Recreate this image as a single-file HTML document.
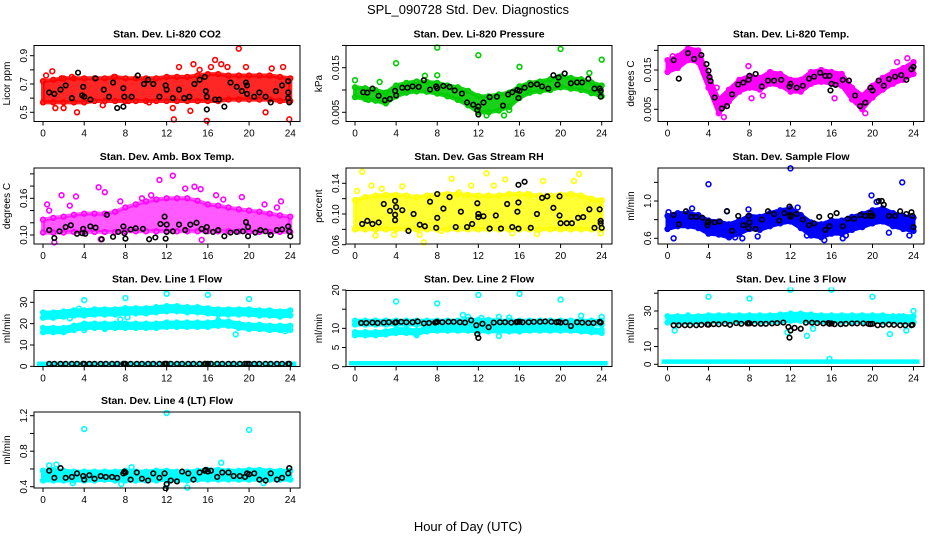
<!DOCTYPE html>
<html><head><meta charset="utf-8"><title>SPL_090728 Std. Dev. Diagnostics</title>
<style>
html,body{margin:0;padding:0;background:#fff;}
svg{display:block;font-family:"Liberation Sans",Arial,sans-serif;}
.pt{font-size:10.5px;font-weight:bold;text-anchor:middle;}
.tk{font-size:10px;}
</style></head>
<body>
<svg id="chart" width="936" height="540" viewBox="0 0 936 540">
<text x="468" y="14" font-size="13" text-anchor="middle">SPL_090728  Std. Dev. Diagnostics</text>
<text x="468" y="531" font-size="13" text-anchor="middle">Hour of Day (UTC)</text>
</svg>
<script>
// ---------- shared data ----------
const HOURS = [0,1,2,3,4,5,6,7,8,9,10,11,12,13,14,15,16,17,18,19,20,21,22,23,24];
const XTICKS = [0,4,8,12,16,20,24];
const LINE_BH = [0.6,1.1,1.7,2.2,2.8,3.3,3.9,4.0,4.5,5.0,5.6,6.1,6.7,7.2,7.8,7.9,8.0,8.5,9.1,9.6,10.2,10.7,11.3,11.8,11.9,12.0,12.4,13.0,13.5,14.1,14.6,15.2,15.7,15.8,16.0,16.3,16.9,17.4,18.0,18.5,19.1,19.6,19.8,20.0,20.5,21.0,21.6,22.1,22.7,23.2,23.8,23.9];

// CO2
const co2Lo = [0.57,0.57,0.57,0.57,0.57,0.58,0.58,0.58,0.58,0.58,0.58,0.58,0.58,0.58,0.58,0.58,0.58,0.58,0.59,0.59,0.59,0.59,0.59,0.58,0.58];
const co2Hi = [0.72,0.73,0.74,0.74,0.74,0.74,0.74,0.75,0.74,0.74,0.74,0.74,0.75,0.75,0.75,0.76,0.77,0.77,0.76,0.76,0.76,0.76,0.76,0.75,0.74];
const co2Out = [[0.3,0.76],[0.9,0.79],[1.8,0.74],[3.3,0.5],[1.2,0.53],[12.7,0.45],[13.2,0.82],[14.6,0.84],[15.9,0.44],[16.7,0.87],[19,0.95],[19.7,0.82],[21.6,0.5],[23.3,0.82],[23.9,0.45],[22.2,0.81],[17.3,0.84],[2.8,0.75],[5.8,0.55],[10.3,0.57],[8.3,0.58],[15.2,0.8],[17.9,0.82],[2.0,0.53],[6.9,0.75],[12.6,0.53],[14.3,0.51],[16.3,0.82]];
const co2Blk = [[0.6,0.64],[1.1,0.63],[1.7,0.66],[2.2,0.69],[2.8,0.6],[3.4,0.78],[3.8,0.62],[3.9,0.68],[4,0.61],[4.6,0.59],[5.1,0.74],[5.9,0.66],[6.4,0.61],[6.8,0.71],[7.2,0.53],[7.8,0.54],[7.8,0.67],[7.9,0.61],[8.6,0.61],[9.2,0.76],[9.8,0.7],[10.2,0.73],[10.7,0.7],[11.3,0.61],[11.9,0.69],[12,0.66],[12.6,0.6],[13.2,0.66],[13.7,0.6],[14.2,0.61],[14.7,0.7],[15.2,0.73],[15.7,0.75],[15.8,0.65],[15.9,0.52],[15.9,0.61],[16.7,0.59],[17.1,0.59],[17.6,0.54],[18.2,0.71],[18.8,0.68],[19.3,0.65],[19.7,0.71],[19.8,0.69],[19.8,0.63],[20.5,0.61],[21,0.64],[21.6,0.61],[22.1,0.57],[22.6,0.65],[23.2,0.69],[23.8,0.72],[23.8,0.64],[23.8,0.6],[23.9,0.57]];

// Pressure
const prLo = [0.0084,0.0080,0.0076,0.0070,0.0086,0.0094,0.0097,0.0096,0.0092,0.0086,0.0078,0.0066,0.0050,0.0050,0.0054,0.0062,0.0082,0.0094,0.0097,0.0100,0.0106,0.0103,0.0100,0.0093,0.0086];
const prHi = [0.0106,0.0104,0.0100,0.0094,0.0110,0.0116,0.0119,0.0118,0.0116,0.0110,0.0106,0.0098,0.0086,0.0086,0.0090,0.0094,0.0108,0.0116,0.0119,0.0124,0.0130,0.0127,0.0124,0.0117,0.0110];
const prOut = [[0,0.0122],[4,0.016],[8,0.0195],[8,0.0133],[12,0.0178],[16,0.0152],[20,0.0192],[24,0.0168],[22.8,0.0138],[14.5,0.0043],[12.8,0.0043],[2.4,0.0118],[1.3,0.0078],[6.8,0.0132],[15,0.0055]];
const prBlk = [[0.8,0.0095],[1.2,0.0094],[1.7,0.0103],[2.3,0.0087],[2.9,0.0077],[3.4,0.008],[3.9,0.0098],[4,0.0088],[4.6,0.0105],[5.1,0.0105],[5.6,0.0108],[6.2,0.0107],[6.7,0.0122],[7.3,0.0101],[7.9,0.0108],[8,0.0104],[8.6,0.0109],[9.2,0.0107],[9.7,0.0099],[10.4,0.0092],[10.9,0.0072],[11.5,0.0067],[11.9,0.0055],[12,0.0063],[12,0.0045],[12.5,0.0072],[13.1,0.0084],[13.8,0.0085],[14.4,0.0065],[14.9,0.009],[15.3,0.0095],[15.8,0.01],[15.9,0.0082],[16,0.0098],[16.5,0.0105],[17.1,0.0112],[17.7,0.0113],[18.2,0.0108],[18.8,0.0103],[19.3,0.0133],[19.7,0.0112],[19.8,0.0128],[20.4,0.0137],[21,0.0115],[21.6,0.0117],[22.1,0.0117],[22.7,0.0125],[23.3,0.0103],[23.8,0.0103],[23.9,0.0098],[23.9,0.0085]];

// Li-820 Temp
const tLo = [0.0145,0.0155,0.0175,0.0170,0.0105,0.0040,0.0070,0.0095,0.0105,0.0100,0.0115,0.0110,0.0095,0.0095,0.0115,0.0120,0.0115,0.0110,0.0075,0.0050,0.0080,0.0100,0.0115,0.0125,0.0140];
const tHi = [0.0175,0.0185,0.0205,0.0200,0.0135,0.0075,0.0100,0.0125,0.0135,0.0130,0.0145,0.0140,0.0125,0.0125,0.0145,0.0150,0.0145,0.0140,0.0105,0.0085,0.0110,0.0130,0.0145,0.0155,0.0170];
const tOut = [[0.5,0.0185],[7.9,0.016],[8.2,0.0078],[9.3,0.0085],[16.3,0.0078],[19.3,0.004],[23.4,0.018],[22.4,0.017],[4.8,0.0105],[5.5,0.003]];
const tBlk = [[0.6,0.0175],[1.1,0.0128],[2,0.0193],[2.6,0.0178],[3.3,0.0188],[3.8,0.0165],[4,0.0148],[4.1,0.0132],[4.2,0.0122],[4.6,0.008],[5.3,0.0052],[5.8,0.0058],[6.3,0.0088],[6.9,0.0113],[7.4,0.0118],[7.9,0.0125],[8,0.0135],[8.6,0.014],[9.2,0.0108],[9.8,0.0123],[10.4,0.0123],[11.1,0.0125],[11.9,0.0108],[12,0.0115],[12.6,0.0105],[13.2,0.011],[13.8,0.0128],[14.3,0.0133],[14.9,0.0143],[15.4,0.0135],[15.8,0.0135],[15.9,0.0098],[16,0.0115],[16.4,0.0112],[17.1,0.0125],[17.7,0.0123],[18.3,0.0085],[18.8,0.0058],[19.3,0.0067],[19.8,0.0105],[20,0.0098],[20.6,0.0123],[21.1,0.011],[21.6,0.0127],[22.2,0.0133],[22.8,0.0137],[23.3,0.0125],[23.8,0.0152],[24,0.0158]];

// Amb box temp
const abLo = [0.104,0.104,0.104,0.105,0.105,0.105,0.105,0.105,0.106,0.106,0.106,0.106,0.106,0.106,0.106,0.106,0.106,0.106,0.106,0.106,0.105,0.105,0.105,0.105,0.105];
const abHi = [0.125,0.128,0.130,0.133,0.135,0.135,0.135,0.138,0.145,0.150,0.155,0.158,0.160,0.160,0.160,0.156,0.150,0.148,0.145,0.142,0.140,0.138,0.135,0.132,0.130];
const abOut = [[0.4,0.15],[1.8,0.165],[2.6,0.148],[3.2,0.163],[5.4,0.178],[6,0.17],[11.3,0.19],[12.6,0.197],[13.8,0.176],[14.7,0.179],[15.3,0.175],[16.8,0.165],[19.3,0.162],[21.5,0.15],[23.1,0.155],[1.1,0.088],[15.4,0.092],[5.6,0.093],[0.6,0.14],[9.6,0.16],[17.5,0.158],[7.5,0.155],[22.7,0.145],[10.5,0.165]];
const abBlk = [[0.6,0.108],[1.1,0.095],[1.6,0.106],[2.2,0.113],[2.7,0.116],[3.3,0.102],[3.8,0.103],[3.9,0.11],[4.1,0.102],[4.6,0.114],[5.1,0.112],[5.7,0.093],[6.2,0.133],[6.8,0.097],[7.3,0.105],[7.8,0.114],[7.9,0.103],[8,0.094],[8.5,0.109],[9,0.111],[9.7,0.11],[10.3,0.093],[10.9,0.096],[11.4,0.118],[11.8,0.13],[11.9,0.094],[12,0.105],[12,0.117],[12.6,0.106],[13.2,0.117],[13.8,0.108],[14.3,0.117],[14.9,0.12],[15.4,0.11],[15.8,0.106],[15.9,0.113],[16.5,0.105],[17,0.108],[17.6,0.098],[18.2,0.104],[18.8,0.105],[19.4,0.106],[19.7,0.121],[19.9,0.113],[19.9,0.098],[20.6,0.104],[21.1,0.108],[21.6,0.106],[22.1,0.1],[22.7,0.108],[23.2,0.109],[23.8,0.114],[23.9,0.106],[24,0.098]];

// Gas stream RH
const rhLo = [0.080,0.080,0.080,0.080,0.080,0.080,0.080,0.080,0.080,0.080,0.080,0.080,0.080,0.080,0.080,0.080,0.080,0.080,0.080,0.080,0.080,0.080,0.080,0.080,0.080];
const rhHi = [0.118,0.122,0.124,0.125,0.125,0.124,0.122,0.124,0.126,0.126,0.126,0.125,0.124,0.124,0.124,0.126,0.126,0.125,0.124,0.124,0.125,0.126,0.124,0.120,0.118];
const rhOut = [[0.7,0.155],[12.8,0.153],[21.8,0.152],[6.7,0.063],[2,0.072],[9.4,0.146],[14.6,0.145],[0.2,0.13],[4.6,0.136],[18.3,0.143],[23.9,0.075],[15.3,0.075],[3.8,0.073],[11.3,0.137],[21.3,0.143],[13.5,0.137],[6.3,0.073],[1.6,0.137],[2.6,0.133],[17.7,0.074],[8.4,0.078],[10.1,0.128],[16.8,0.126]];
const rhBlk = [[0.7,0.087],[1.2,0.091],[1.7,0.087],[2.3,0.089],[2.8,0.113],[3.4,0.104],[3.9,0.117],[3.9,0.099],[3.9,0.092],[4.0,0.109],[4.6,0.105],[5.2,0.078],[5.7,0.1],[6.3,0.086],[6.8,0.084],[7.3,0.116],[7.9,0.082],[8,0.095],[8,0.126],[8.6,0.107],[9.2,0.122],[9.8,0.083],[10.3,0.103],[10.9,0.083],[11.4,0.087],[11.9,0.114],[12,0.1],[12,0.096],[12.5,0.097],[13.1,0.081],[13.7,0.098],[14.2,0.081],[14.8,0.113],[15.3,0.083],[15.8,0.103],[15.9,0.138],[15.9,0.115],[15.9,0.081],[16.5,0.142],[17.1,0.082],[17.7,0.1],[18.2,0.121],[18.7,0.123],[19.3,0.108],[19.9,0.098],[19.9,0.123],[20,0.088],[20.6,0.088],[21.1,0.088],[21.7,0.095],[22.2,0.096],[22.8,0.106],[23.3,0.082],[23.8,0.106],[23.9,0.091],[23.9,0.088],[24,0.082]];

// Sample flow
const sfLo = [0.70,0.73,0.73,0.71,0.65,0.64,0.61,0.65,0.70,0.69,0.73,0.76,0.78,0.71,0.63,0.61,0.65,0.65,0.69,0.72,0.76,0.78,0.73,0.70,0.68];
const sfHi = [0.84,0.87,0.87,0.85,0.79,0.78,0.75,0.79,0.84,0.83,0.87,0.90,0.92,0.85,0.77,0.75,0.79,0.79,0.83,0.86,0.90,0.92,0.87,0.84,0.82];
const sfOut = [[4,1.18],[12,1.35],[22.9,1.2],[19.9,1.06],[0.1,0.88],[0.6,0.6],[2.4,0.92],[7.9,0.91],[12.7,0.93],[15.3,0.58],[17.1,0.6],[17.4,0.63],[23.6,0.63],[20.4,0.99],[5.8,0.89],[6.6,0.61],[7.3,0.6],[13.6,0.63],[21.6,0.66],[8.8,0.62]];
const sfBlk = [[0.6,0.85],[1.1,0.75],[1.8,0.89],[2.3,0.83],[2.8,0.83],[3.4,0.82],[3.9,0.77],[3.9,0.74],[4,0.78],[4.6,0.77],[5.1,0.78],[5.8,0.89],[6.3,0.68],[6.9,0.84],[7.4,0.74],[7.9,0.71],[7.9,0.84],[8,0.77],[8.6,0.7],[9.2,0.8],[9.8,0.89],[10.4,0.86],[10.9,0.79],[11.4,0.87],[11.9,0.94],[12,0.85],[12,0.83],[12.6,0.86],[13.2,0.8],[13.8,0.74],[14.3,0.76],[14.8,0.83],[15.4,0.69],[15.8,0.73],[15.9,0.84],[16.5,0.87],[17.1,0.73],[17.6,0.81],[18.2,0.81],[18.8,0.85],[19.3,0.84],[19.8,0.87],[19.8,0.84],[20,0.84],[20.6,1.0],[20.9,1.0],[21.1,0.96],[21.6,0.84],[22.2,0.84],[22.7,0.89],[23.3,0.86],[23.8,0.88],[23.9,0.84],[24,0.72]];

// Line 1 flow
const l1UpLo = [22.8,22.8,23.3,23.8,23.8,24.3,24.3,24.3,24.8,24.8,24.8,25.3,25.8,25.8,25.3,25.3,24.8,24.3,24.3,24.3,24.3,23.8,23.8,23.3,23.8];
const l1UpHi = [25.2,25.2,25.7,26.2,26.2,26.7,26.7,26.7,27.2,27.2,27.2,27.7,28.2,28.2,27.7,27.7,27.2,26.7,26.7,26.7,26.7,26.2,26.2,25.7,26.2];
const l1LwLo = [16.0,16.0,16.0,17.0,18.0,18.0,18.0,18.0,18.0,18.0,18.0,18.0,18.5,18.5,18.5,18.5,18.5,19.0,19.0,18.0,17.5,17.5,17.0,17.0,17.0];
const l1LwHi = [18.0,18.0,18.0,19.0,20.0,20.0,20.0,20.0,20.0,20.0,20.0,20.0,20.5,20.5,20.5,20.5,20.5,21.0,21.0,20.0,19.5,19.5,19.0,19.0,19.0];
const l1Base = [1.2,1.2,1.2,1.2,1.2,1.2,1.2,1.2,1.2,1.2,1.2,1.2,1.3,1.2,1.2,1.2,1.2,1.2,1.2,1.2,1.2,1.2,1.2,1.2,1.2];
const l1Out = [[4,31],[8,32],[12,34],[16,33.5],[20,31.5],[3.5,27],[4,17],[18.7,15],[7.5,22],[23.5,16.5],[17,21.5],[2.6,22.5],[6,17.5],[8.2,23]];
const l1Blk = [1.2,1.2,1.2,1.2,1.2,1.2,1.2,1.2,1.2,1.2,1.2,1.2,1.2,1.2,1.2,1.2,1.2,1.2,1.2,1.2,1.2,1.2,1.2,1.2,1.2,1.2,1.2,1.2,1.2,1.2,1.2,1.2,1.2,1.2,1.2,1.2,1.2,1.2,1.2,1.2,1.2,1.2,1.2,1.2,1.2,1.2,1.2,1.2,1.2,1.2,1.2,1.2];

// Line 2 flow
const l2UpLo = [11.0,11.0,11.0,11.0,11.0,11.0,11.0,11.0,11.0,11.0,11.0,11.0,11.0,11.0,11.0,11.0,11.0,11.0,11.0,11.0,11.0,11.0,11.0,11.0,11.0];
const l2UpHi = [12.0,12.0,12.0,12.0,12.0,12.0,12.0,12.0,12.0,12.0,12.0,12.2,12.2,12.2,12.0,12.0,12.0,12.0,12.0,12.0,12.0,12.0,12.0,12.0,12.0];
const l2LwLo = [8.2,8.2,8.2,8.4,8.8,8.8,8.6,9.2,9.4,9.4,9.4,9.4,9.2,9.2,9.2,9.2,9.2,9.4,9.4,9.4,9.4,9.4,9.2,9.0,8.8];
const l2LwHi = [9.0,9.0,9.0,9.2,9.8,9.8,9.4,10.2,10.4,10.4,10.4,10.4,10.2,10.2,10.2,10.2,10.2,10.4,10.4,10.4,10.4,10.4,10.2,9.8,9.6];
const l2Base = [0.9,0.9,0.9,0.9,0.9,0.9,0.9,0.9,0.9,0.9,0.9,0.9,0.9,0.9,0.9,0.9,0.9,0.9,0.9,0.9,0.9,0.9,0.9,0.9,0.9];
const l2Out = [[4,17],[8,16.5],[12,18.7],[16,19],[20,17.5],[10.5,13.5],[11,13],[14,13],[15,12.8],[22,13.3],[24,13],[14,8],[6,8.2],[12.3,12.7]];
const l2Blk = [11.4,11.4,11.5,11.4,11.5,11.6,11.5,11.6,11.7,11.6,11.6,11.8,11.3,11.4,11.5,11.6,11.7,11.6,11.7,11.7,11.6,11.5,12.1,10.8,8.5,7.5,11.2,10.3,11.5,11.6,11.6,11.5,11.6,11.7,11.7,11.6,11.6,11.7,11.7,11.8,11.7,11.6,11.7,11.5,11.6,10.6,11.6,11.5,11.4,11.4,11.7,11.5];

// Line 3 flow
const l3UpLo = [23.5,23.5,23.5,23.5,24.0,24.0,24.0,24.0,24.0,24.0,24.0,24.0,24.5,24.5,24.0,24.0,24.0,24.0,24.0,24.0,24.0,24.0,24.0,23.5,23.5];
const l3UpHi = [27.0,27.0,27.0,27.0,27.5,27.5,27.5,27.5,27.5,27.5,27.5,28.0,28.5,28.5,28.0,27.5,27.5,27.5,27.5,27.5,27.5,27.5,27.0,27.0,27.0];
const l3Base = [1.5,1.5,1.5,1.5,1.5,1.5,1.5,1.5,1.5,1.5,1.5,1.5,1.5,1.5,1.5,1.5,1.5,1.5,1.5,1.5,1.5,1.5,1.5,1.5,1.5];
const l3Out = [[4,38],[8,37],[12,42],[16,42],[20,38],[0.7,19],[11.7,18],[13.6,16],[14.2,20],[21.7,17],[23.3,19],[24,30],[2,27.5],[22.6,27],[15.8,3]];
const l3Blk = [22.0,22.0,22.0,22.0,22.0,22.2,22.4,22.3,22.6,22.5,22.8,22.2,23.2,22.8,23.0,23.2,23.0,22.8,22.8,22.8,23.0,23.2,23.5,21.0,15.0,19.0,20.5,20.0,23.4,23.4,23.2,23.0,23.2,22.8,23.0,22.6,22.6,22.8,23.0,23.0,23.0,22.8,22.6,22.8,22.0,22.2,22.4,22.2,22.0,22.0,22.0,22.2];

// Line 4 (LT) flow
const l4Lo = [0.47,0.47,0.47,0.47,0.47,0.47,0.48,0.47,0.47,0.47,0.47,0.47,0.48,0.47,0.47,0.48,0.48,0.48,0.48,0.48,0.48,0.48,0.48,0.48,0.48];
const l4Hi = [0.58,0.59,0.58,0.57,0.57,0.57,0.57,0.57,0.58,0.57,0.57,0.58,0.58,0.57,0.57,0.58,0.59,0.59,0.58,0.58,0.59,0.59,0.58,0.58,0.58];
const l4Out = [[4,1.05],[12,1.23],[20,1.04],[1.3,0.65],[17.3,0.67],[14,0.39],[12,0.42],[0.6,0.64],[7.6,0.43],[21.4,0.44],[2.9,0.44],[8.6,0.62]];
const l4Blk = [0.58,0.5,0.61,0.5,0.51,0.55,0.52,0.48,0.53,0.49,0.52,0.51,0.51,0.5,0.55,0.57,0.56,0.48,0.56,0.49,0.47,0.55,0.5,0.55,0.38,0.43,0.47,0.46,0.57,0.55,0.48,0.56,0.58,0.59,0.57,0.58,0.51,0.56,0.56,0.52,0.52,0.51,0.55,0.54,0.55,0.48,0.47,0.55,0.48,0.5,0.55,0.61];

const YTICKS_CO2=[0.5,0.6,0.7,0.8,0.9], YLAB_CO2=["0.5","","0.7","","0.9"];
const YTICKS_PR=[0.005,0.010,0.015,0.020], YLAB_PR=["0.005","","0.015",""];
const YTICKS_T=[0.005,0.010,0.015,0.020], YLAB_T=["0.005","","0.015",""];
const YTICKS_AB=[0.10,0.12,0.14,0.16,0.18,0.20], YLAB_AB=["0.10","","","0.16","",""];
const YTICKS_RH=[0.06,0.08,0.10,0.12,0.14], YLAB_RH=["0.06","","0.10","","0.14"];
const YTICKS_SF=[0.6,0.8,1.0,1.2], YLAB_SF=["0.6","","1.0",""];
const YTICKS_L1=[0,10,20,30], YLAB_L1=["0","10","20","30"];
const YTICKS_L2=[0,5,10,15,20], YLAB_L2=["0","5","10","","20"];
const YTICKS_L3=[0,10,20,30,40], YLAB_L3=["0","10","","30",""];
const YTICKS_L4=[0.4,0.6,0.8,1.0,1.2], YLAB_L4=["0.4","","0.8","","1.2"];

// ---------- rendering ----------
const NS="http://www.w3.org/2000/svg";
const svg=document.getElementById('chart');
function mk(tag,attrs,parent){const e=document.createElementNS(NS,tag);for(const k in attrs)e.setAttribute(k,attrs[k]);(parent||svg).appendChild(e);return e;}

function panel(p){
  const g=mk('g',{});
  
  
  const L=p.left, T=p.top, W=266, H=76;
  const xs=h=>p.x0+(p.x24-p.x0)*h/24;
  const ys=v=>p.yA+(p.yB-p.yA)*(v-p.vA)/(p.vB-p.vA);
  const clip='c'+p.name;
  const cp=mk('clipPath',{id:clip},g); mk('rect',{x:L,y:T-3,width:W,height:H+6},cp);
  const plot=mk('g',{'clip-path':'url(#'+clip+')'},g);
  
  
  const col=p.color;
  const op=p.op||1;
  (p.bands||[]).forEach(b=>{
    const lo=b[0],hi=b[1];
    let d='';
    HOURS.forEach((h,i)=>{d+=(i?'L':'M')+xs(h).toFixed(1)+' '+ys(hi[i]).toFixed(1);});
    for(let i=HOURS.length-1;i>=0;i--) d+='L'+xs(HOURS[i]).toFixed(1)+' '+ys(lo[i]).toFixed(1);
    const band=mk('path',{d:d+'Z',fill:col,'fill-opacity':op,stroke:col,'stroke-opacity':op,'stroke-width':4,'stroke-linejoin':'round'},plot);
    
    
    HOURS.forEach((h,i)=>{
      [lo[i],hi[i]].forEach(v=>{
        const c=mk('circle',{cx:xs(h),cy:ys(v),r:2.4,fill:'none',stroke:col,'stroke-width':1.5},plot);
        
        
      });
    });
  });
  (p.lines||[]).forEach(arr=>{
    HOURS.forEach((h,i)=>{
      const c=mk('line',{x1:xs(h)-6,x2:xs(h)+6,y1:ys(arr[i]),y2:ys(arr[i]),stroke:col,'stroke-width':4.5},plot);
      
      
    });
  });
  p.out.forEach(o=>{
    const c=mk('circle',{cx:xs(o[0]),cy:ys(o[1]),r:2.4,fill:'none',stroke:col,'stroke-width':1.6},plot);
    
    
  });
  p.blk.forEach(o=>{
    const c=mk('circle',{cx:xs(o[0]),cy:ys(o[1]),r:2.3,fill:'none',stroke:'#000','stroke-width':1.6},plot);
    
    
  });
  const box=mk('rect',{x:L,y:T,width:W,height:H,fill:'none',stroke:'#000','stroke-width':1},g);
  
  
  const t=mk('text',{x:L+W/2,y:T-8,class:'pt'},g); t.textContent=p.title;
  
  
  mk('line',{x1:xs(0),x2:xs(24),y1:T+H,y2:T+H,stroke:'#000'},g);
  XTICKS.forEach(h=>{
    mk('line',{x1:xs(h),x2:xs(h),y1:T+H,y2:T+H+4,stroke:'#000'},g);
    const tx=mk('text',{x:xs(h),y:T+H+15,class:'tk','text-anchor':'middle'},g); tx.textContent=h;
    
    
  });
  p.yt.forEach((v,i)=>{
    const y=ys(v);
    mk('line',{x1:L-4,x2:L,y1:y,y2:y,stroke:'#000'},g);
    if(p.yl[i]){
      const tx=mk('text',{x:L-7,y:y,class:'tk','text-anchor':'middle',transform:'rotate(-90 '+(L-7)+' '+y+')'},g);
      tx.textContent=p.yl[i];
      
      
    }
  });
  const yt=mk('text',{x:L-24,y:T+H/2,class:'tk','text-anchor':'middle',transform:'rotate(-90 '+(L-24)+' '+(T+H/2)+')'},g);
  yt.textContent=p.ylab;
  
  
}

const C1={left:34,x0:43,x24:290.3}, C2={left:346,x0:355,x24:601.7}, C3={left:658,x0:667.5,x24:913.5};
const R=[45.5,168,290.5,412];
const bh=LINE_BH;

panel(Object.assign({},C1,{name:'co2-panel',title:'Stan. Dev. Li-820 CO2',top:R[0],color:'#ff0000',op:0.85,ylab:'Licor ppm',
  vA:0.9,yA:55.7,vB:0.5,yB:112.3,yt:YTICKS_CO2,yl:YLAB_CO2,bands:[[co2Lo,co2Hi]],out:co2Out,blk:co2Blk}));
panel(Object.assign({},C2,{name:'pressure-panel',title:'Stan. Dev. Li-820 Pressure',top:R[0],color:'#00cc00',op:0.9,ylab:'kPa',
  vA:0.015,yA:67.7,vB:0.005,yB:112.3,yt:YTICKS_PR,yl:YLAB_PR,bands:[[prLo,prHi]],out:prOut,blk:prBlk}));
panel(Object.assign({},C3,{name:'temp-panel',title:'Stan. Dev. Li-820 Temp.',top:R[0],color:'#ff00ff',ylab:'degrees C',
  vA:0.015,yA:70,vB:0.005,yB:109.3,yt:YTICKS_T,yl:YLAB_T,bands:[[tLo,tHi]],out:tOut,blk:tBlk}));
panel(Object.assign({},C1,{name:'ambbox-panel',title:'Stan. Dev. Amb. Box Temp.',top:R[1],color:'#ff00ff',op:0.65,ylab:'degrees C',
  vA:0.16,yA:198.3,vB:0.10,yB:235,yt:YTICKS_AB,yl:YLAB_AB,bands:[[abLo,abHi]],out:abOut,blk:abBlk}));
panel(Object.assign({},C2,{name:'rh-panel',title:'Stan. Dev. Gas Stream RH',top:R[1],color:'#ffff00',op:0.8,ylab:'percent',
  vA:0.14,yA:183.3,vB:0.10,yB:214,yt:YTICKS_RH,yl:YLAB_RH,bands:[[rhLo,rhHi]],out:rhOut,blk:rhBlk}));
panel(Object.assign({},C3,{name:'sampleflow-panel',title:'Stan. Dev. Sample Flow',top:R[1],color:'#0000ff',ylab:'ml/min',
  vA:1.0,yA:201,vB:0.6,yB:238.3,yt:YTICKS_SF,yl:YLAB_SF,bands:[[sfLo,sfHi]],out:sfOut,blk:sfBlk}));
panel(Object.assign({},C1,{name:'line1-panel',title:'Stan. Dev. Line 1 Flow',top:R[2],color:'#00ffff',ylab:'ml/min',
  vA:30,yA:302.3,vB:10,yB:345,yt:YTICKS_L1,yl:YLAB_L1,bands:[[l1UpLo,l1UpHi],[l1LwLo,l1LwHi]],lines:[l1Base],out:l1Out,
  blk:bh.map((h,i)=>[h,l1Blk[i]])}));
panel(Object.assign({},C2,{name:'line2-panel',title:'Stan. Dev. Line 2 Flow',top:R[2],color:'#00ffff',ylab:'ml/min',
  vA:20,yA:290,vB:0,yB:366.7,yt:YTICKS_L2,yl:YLAB_L2,bands:[[l2UpLo,l2UpHi],[l2LwLo,l2LwHi]],lines:[l2Base],out:l2Out,
  blk:bh.map((h,i)=>[h,l2Blk[i]])}));
panel(Object.assign({},C3,{name:'line3-panel',title:'Stan. Dev. Line 3 Flow',top:R[2],color:'#00ffff',ylab:'ml/min',
  vA:30,yA:311,vB:0,yB:364.3,yt:YTICKS_L3,yl:YLAB_L3,bands:[[l3UpLo,l3UpHi]],lines:[l3Base],out:l3Out,
  blk:bh.map((h,i)=>[h,l3Blk[i]])}));
panel(Object.assign({},C1,{name:'line4-panel',title:'Stan. Dev. Line 4 (LT) Flow',top:R[3],color:'#00ffff',ylab:'ml/min',
  vA:1.2,yA:415.7,vB:0.4,yB:486.7,yt:YTICKS_L4,yl:YLAB_L4,bands:[[l4Lo,l4Hi]],out:l4Out,
  blk:bh.map((h,i)=>[h,l4Blk[i]])}));
</script>
</body></html>
